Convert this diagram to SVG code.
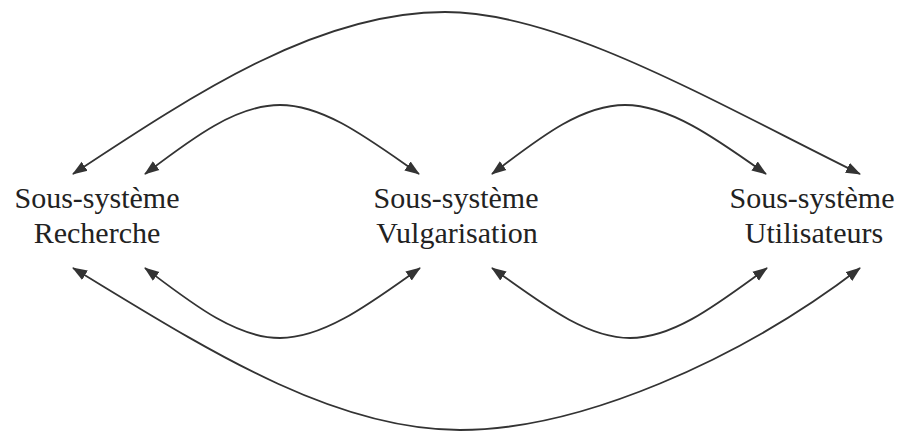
<svg xmlns="http://www.w3.org/2000/svg" width="904" height="433" viewBox="0 0 904 433">
<style>
.lbl{font-family:"Liberation Serif","Times New Roman",serif;font-size:30px;fill:#222;text-anchor:middle}
.c{fill:none;stroke:#333;stroke-width:1.8;marker-start:url(#ah);marker-end:url(#ah)}
</style>
<defs>
<marker id="ah" markerUnits="userSpaceOnUse" markerWidth="16" markerHeight="12" viewBox="0 0 16 12" refX="14" refY="6" orient="auto-start-reverse">
<path d="M0,0.5 L15,6 L0,11.5 z" fill="#333"/>
</marker>
</defs>
<rect width="904" height="433" fill="#fff"/>
<g id="connectors">
<path class="c" d="M73,174 C200,90 320,12 445,12 C560,12 710,100 860,174"/>
<path class="c" d="M145,174 C190,140 235,105 280,105 C325,105 370,140 419,174"/>
<path class="c" d="M492,174 C537,140 580,105 625,105 C670,105 718,140 766,174"/>
<path class="c" d="M145,268 C190,302 235,338 280,338 C325,338 372,302 420,268"/>
<path class="c" d="M492,268 C540,302 585,338 630,338 C675,338 720,302 767,268"/>
<path class="c" d="M73,268 C200,345 330,430 460,430 C580,430 740,360 860,268"/>
</g>
<g id="recherche">
<text class="lbl" x="97" y="208">Sous-système</text>
<text class="lbl" x="97" y="243">Recherche</text>
</g>
<g id="vulgarisation">
<text class="lbl" x="456" y="208">Sous-système</text>
<text class="lbl" x="457" y="243">Vulgarisation</text>
</g>
<g id="utilisateurs">
<text class="lbl" x="812" y="208">Sous-système</text>
<text class="lbl" x="814" y="243">Utilisateurs</text>
</g>
</svg>
